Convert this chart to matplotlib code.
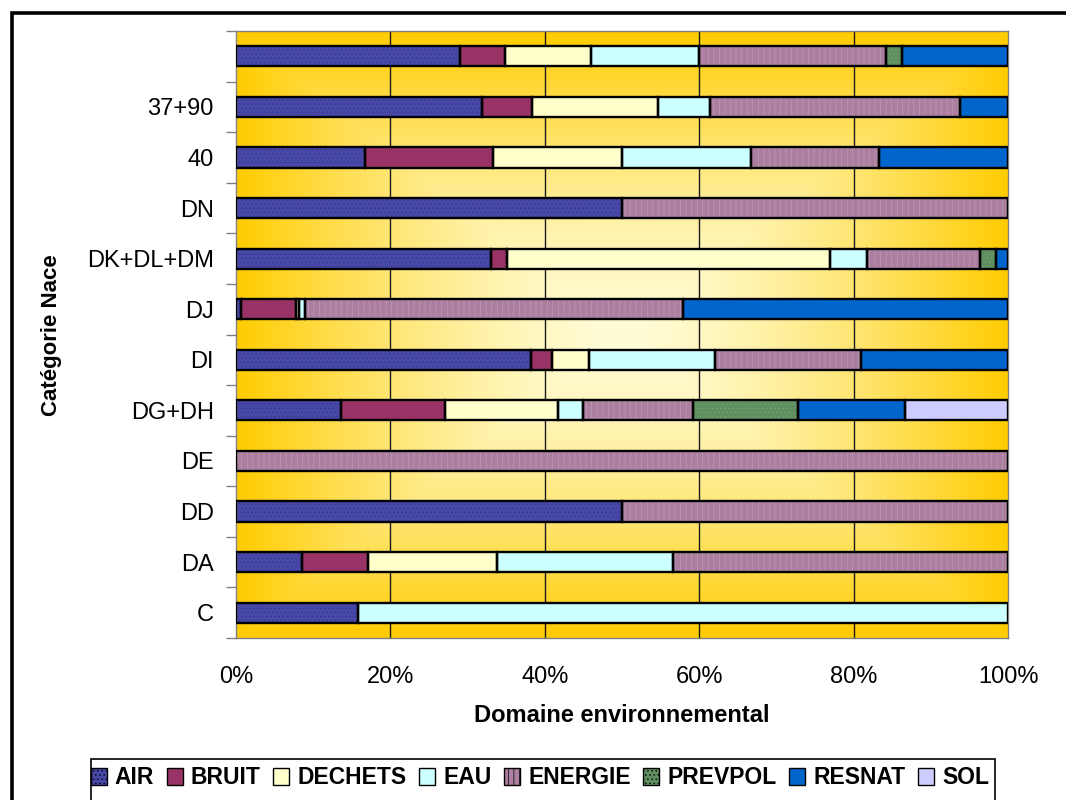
import numpy as np
import matplotlib
matplotlib.use("Agg")
import matplotlib.pyplot as plt
from matplotlib.patches import Patch, Rectangle

plt.rcParams['font.family'] = ['Liberation Sans', 'DejaVu Sans']
plt.rcParams['hatch.linewidth'] = 0.5

# Categories from top to bottom as they appear on the chart
categories = ["", "37+90", "40", "DN", "DK+DL+DM", "DJ", "DI", "DG+DH", "DE", "DD", "DA", "C"]

# Share (%) of each environmental domain per category (same order as categories)
air     = [29.0, 31.9, 16.67, 50.0, 33.0, 0.7, 38.2, 13.6, 0.0, 50.0, 8.5, 15.8]
bruit   = [5.8, 6.4, 16.67, 0.0, 2.1, 7.1, 2.7, 13.5, 0.0, 0.0, 8.6, 0.0]
dechets = [11.2, 16.4, 16.67, 0.0, 41.9, 0.3, 4.8, 14.6, 0.0, 0.0, 16.7, 0.0]
eau     = [14.0, 6.7, 16.67, 0.0, 4.8, 0.8, 16.4, 3.2, 0.0, 0.0, 22.8, 84.2]
energie = [24.2, 32.4, 16.66, 50.0, 14.6, 49.0, 18.9, 14.3, 100.0, 50.0, 43.4, 0.0]
prevpol = [2.1, 0.0, 0.0, 0.0, 2.1, 0.0, 0.0, 13.6, 0.0, 0.0, 0.0, 0.0]
resnat  = [13.7, 6.2, 16.66, 0.0, 1.5, 42.1, 19.0, 13.8, 0.0, 0.0, 0.0, 0.0]
sol     = [0.0, 0.0, 0.0, 0.0, 0.0, 0.0, 0.0, 13.4, 0.0, 0.0, 0.0, 0.0]

series_names = ["AIR", "BRUIT", "DECHETS", "EAU", "ENERGIE", "PREVPOL", "RESNAT", "SOL"]
series_data = [air, bruit, dechets, eau, energie, prevpol, resnat, sol]

x_ticks = [0, 20, 40, 60, 80, 100]
x_ticklabels = ["0%", "20%", "40%", "60%", "80%", "100%"]

# Fill colour, hatch colour, hatch pattern per series
styles = {
    "AIR":     ("#4848A8", "#36368C", "...."),
    "BRUIT":   ("#993366", None, None),
    "DECHETS": ("#FFFFCC", None, None),
    "EAU":     ("#CCFFFF", None, None),
    "ENERGIE": ("#AC7EA0", "#BE9AB2", "|||"),
    "PREVPOL": ("#5F8F5F", "#76A276", "...."),
    "RESNAT":  ("#0066CC", None, None),
    "SOL":     ("#CCCCFF", None, None),
}

fig = plt.figure(figsize=(10.66, 8.0), dpi=100)
ax = fig.add_axes([236 / 1066, 1 - 638 / 800, (1008 - 236) / 1066, (638 - 31) / 800])

n = len(categories)
ypos = np.arange(n)[::-1]  # first category on top

# Rectangular "from centre" gradient for the plot background
H, W = 400, 600
u = np.linspace(-1, 1, W)
v = np.linspace(-1, 1, H)
U, V = np.meshgrid(u, v)
t = np.clip(np.maximum(np.abs(U), np.abs(V)), 0, 1) ** 1.5
light = np.array([255, 252, 214]) / 255.0
gold = np.array([255, 204, 0]) / 255.0
img = light[None, None, :] * (1 - t[..., None]) + gold[None, None, :] * t[..., None]
ax.imshow(img, extent=[0, 100, -0.5, n - 0.5], aspect='auto', zorder=0,
          interpolation='bilinear', origin='lower')

# Vertical gridlines
for gx in x_ticks[1:-1]:
    ax.axvline(gx, color='#1a1a1a', lw=1.0, zorder=1)

bar_h = 0.4
left = np.zeros(n)
for name, vals in zip(series_names, series_data):
    vals = np.array(vals, dtype=float)
    face, hcol, hatch = styles[name]
    mask = vals > 0
    if mask.any():
        ax.barh(ypos[mask], vals[mask], left=left[mask], height=bar_h,
                color=face, edgecolor=hcol if hcol else face,
                hatch=hatch, linewidth=0, zorder=2)
        ax.barh(ypos[mask], vals[mask], left=left[mask], height=bar_h,
                fill=False, edgecolor='black', linewidth=1.7, zorder=3)
    left += vals

ax.set_xlim(0, 100)
ax.set_ylim(-0.5, n - 0.5)

ax.set_yticks(ypos)
ax.set_yticklabels(categories, fontsize=17)
ax.set_yticks(np.arange(-0.5, n, 1.0), minor=True)
ax.tick_params(axis='y', which='major', length=0, pad=16)
ax.tick_params(axis='y', which='minor', length=7, width=1, color='#808080')

ax.set_xticks(x_ticks)
ax.set_xticklabels(x_ticklabels, fontsize=17)
ax.set_xticks([0, 100], minor=True)
ax.tick_params(axis='x', which='major', length=0, pad=20)
ax.tick_params(axis='x', which='minor', length=7, width=1, color='#808080')

for sp in ax.spines.values():
    sp.set_color('#808080')
    sp.set_linewidth(1.0)

fig.text(52 / 1066, 1 - 335 / 800, "Catégorie Nace", rotation=90,
         ha='center', va='center', fontsize=16, fontweight='bold')
fig.text(622 / 1066, 1 - 715 / 800, "Domaine environnemental",
         ha='center', va='center', fontsize=17, fontweight='bold')

# Legend with its own frame running off the bottom edge
handles = []
for name in series_names:
    face, hcol, hatch = styles[name]
    handles.append(Patch(facecolor=face, edgecolor='black', hatch=hatch, linewidth=1.0))
fig.legend(handles, series_names, loc='center', bbox_to_anchor=(540 / 1066, 1 - 778 / 800),
           ncol=8, frameon=False, prop={'weight': 'bold', 'size': 16.5},
           handlelength=0.7, handleheight=0.7, handletextpad=0.35, columnspacing=0.55)
fig.patches.append(Rectangle((91 / 1066, -0.05), (995 - 91) / 1066, 0.05 + 1 - 759 / 800,
                             transform=fig.transFigure, fill=False, edgecolor='black',
                             linewidth=1.2))

# Outer chart border
fig.patches.append(Rectangle((12 / 1066, -0.05), 1.1, 0.05 + 1 - 13 / 800,
                             transform=fig.transFigure, fill=False, edgecolor='black',
                             linewidth=2.6))

fig.savefig("out.png", dpi=100)
